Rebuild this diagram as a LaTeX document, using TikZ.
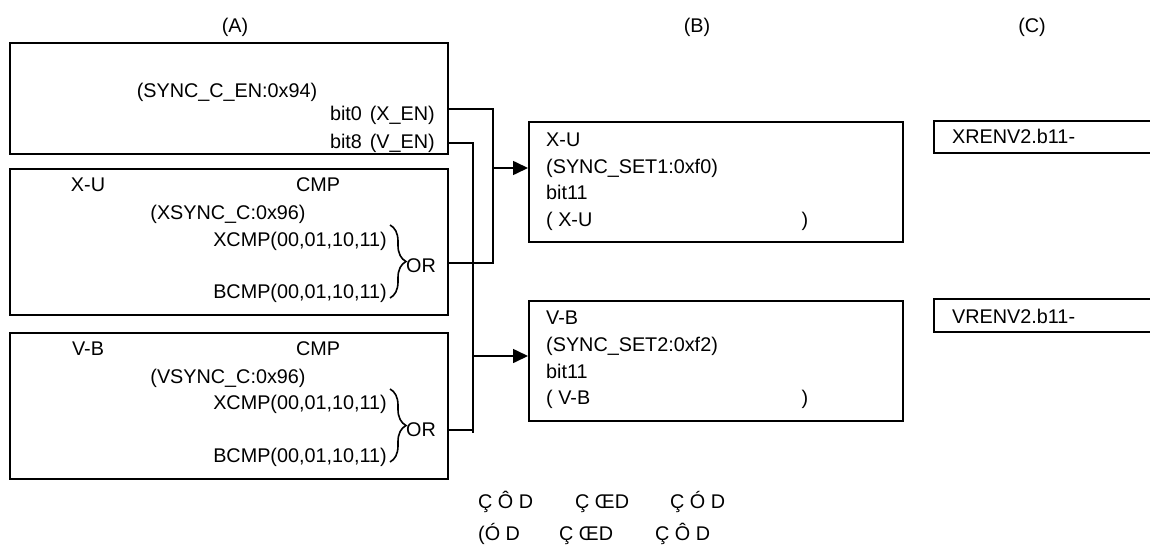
\documentclass[tikz,border=0pt]{standalone}
\usepackage{fontspec}
\setmainfont{Liberation Sans}
\usetikzlibrary{arrows.meta,decorations.pathreplacing}
\begin{document}
\begin{tikzpicture}[x=1pt,y=-1pt,
  box/.style={draw, line width=1.6pt, inner sep=0pt, anchor=north west},
  lbl/.style={inner sep=0pt, font=\fontsize{19.8}{24}\selectfont},
  wire/.style={line width=1.6pt},
  feed/.style={wire, -{Triangle[length=15pt,width=14pt]}},
  curly/.style={line width=1.6pt, decorate, decoration={brace, amplitude=16pt}}]
\useasboundingbox (0,0) rectangle (1150,549);

% column headings
\node[lbl, anchor=base] (hA) at (235,32) {(A)};
\node[lbl, anchor=base] (hB) at (697,32) {(B)};
\node[lbl, anchor=base] (hC) at (1032,32) {(C)};

% column (A): register blocks
\node[box, minimum width=438pt, minimum height=111pt] (A1) at (9,42) {};
\node[box, minimum width=438pt, minimum height=146pt] (A2) at (9,168) {};
\node[box, minimum width=438pt, minimum height=146pt] (A3) at (9,332) {};

\node[lbl, anchor=base] (a1reg) at (227,97) {(SYNC\_C\_EN:0x94)};
\node[lbl, anchor=base east] (a1b0) at (435,120) {bit0\hspace{0.4em}(X\_EN)};
\node[lbl, anchor=base east] (a1b8) at (435,148) {bit8\hspace{0.4em}(V\_EN)};

\node[lbl, anchor=base] (a2nm) at (88,191) {X-U};
\node[lbl, anchor=base] (a2cmp) at (318,191) {CMP};
\node[lbl, anchor=base] (a2reg) at (228,219) {(XSYNC\_C:0x96)};
\node[lbl, anchor=base east] (a2x) at (387,246) {XCMP(00,01,10,11)};
\node[lbl, anchor=base east] (a2b) at (387,298) {BCMP(00,01,10,11)};
\node[lbl, anchor=base west] (a2or) at (406,272) {OR};
\draw[curly] (390,225) -- (390,298);

\node[lbl, anchor=base] (a3nm) at (88,355) {V-B};
\node[lbl, anchor=base] (a3cmp) at (318,355) {CMP};
\node[lbl, anchor=base] (a3reg) at (228,383) {(VSYNC\_C:0x96)};
\node[lbl, anchor=base east] (a3x) at (387,409) {XCMP(00,01,10,11)};
\node[lbl, anchor=base east] (a3b) at (387,462) {BCMP(00,01,10,11)};
\node[lbl, anchor=base west] (a3or) at (406,436) {OR};
\draw[curly] (390,389) -- (390,462);

% column (B): set registers
\node[box, minimum width=374pt, minimum height=120pt] (B1) at (528,121) {};
\node[box, minimum width=374pt, minimum height=120pt] (B2) at (528,300) {};

\node[lbl, anchor=base west] (b1l1) at (546,146) {X-U};
\node[lbl, anchor=base west] (b1l2) at (546,173) {(SYNC\_SET1:0xf0)};
\node[lbl, anchor=base west] (b1l3) at (546,199) {bit11};
\node[lbl, anchor=base west] (b1l4) at (546,226) {( X-U};
\node[lbl, anchor=base] (b1cl) at (805,226) {)};

\node[lbl, anchor=base west] (b2l1) at (546,324) {V-B};
\node[lbl, anchor=base west] (b2l2) at (546,351) {(SYNC\_SET2:0xf2)};
\node[lbl, anchor=base west] (b2l3) at (546,378) {bit11};
\node[lbl, anchor=base west] (b2l4) at (546,404) {( V-B};
\node[lbl, anchor=base] (b2cl) at (805,404) {)};

% column (C): open-ended result fields
\node[lbl, anchor=base west] (c1) at (952,143) {XRENV2.b11-};
\node[lbl, anchor=base west] (c2) at (952,323) {VRENV2.b11-};
\draw[wire] (1151,121) -| (934,153) -- (1151,153);
\draw[wire] (1151,299) -| (934,332) -- (1151,332);

% wiring between (A) and (B)
\coordinate (jx) at (493,0);
\coordinate (jv) at (473,0);
\draw[wire] (A1.east |- 0,109) -| (jx |- 0,263) -- (A2.east |- 0,263);
\draw[wire] (A1.east |- 0,143) -| (jv |- 0,433);
\draw[wire] (A3.east |- 0,430) -- (jv |- 0,430);
\draw[feed] (jx |- 0,168) -- (B1.west |- 0,168);
\draw[feed] (jv |- 0,356) -- (B2.west |- 0,356);

% notes below
\node[lbl, anchor=base west] (n11) at (478,508) {Ç Ô D};
\node[lbl, anchor=base west] (n12) at (575,508) {Ç ŒD};
\node[lbl, anchor=base west] (n13) at (670,508) {Ç Ó D};
\node[lbl, anchor=base west] (n21) at (478,540) {(Ó D};
\node[lbl, anchor=base west] (n22) at (559,540) {Ç ŒD};
\node[lbl, anchor=base west] (n23) at (655,540) {Ç Ô D};
\end{tikzpicture}
\end{document}
